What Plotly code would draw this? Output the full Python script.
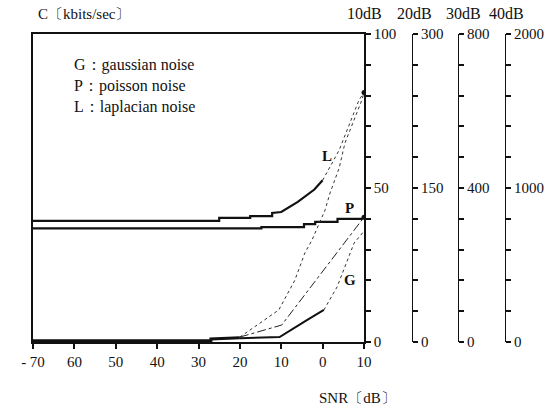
import plotly.graph_objects as go

# Channel capacity C [kbits/sec] versus SNR [dB]
# Laplacian noise: solid part, then dotted continuation
snr_L = [-70, -25, -25, -17.5, -17.5, -12.2, -12.2, -10, -6, -2, 0]
cap_L = [39.3, 39.3, 40.3, 40.3, 40.9, 40.9, 41.9, 42.2, 45.5, 49.5, 52.5]
snr_L_dot = [0, 4, 8.8, 10]
cap_L_dot = [52.5, 62.3, 78.6, 81]

# Poisson noise
snr_P = [-70, -14.8, -14.8, -4.5, -4.5, -1.8, -1.8, 3.6, 3.6, 9.5, 10]
cap_P = [36.9, 36.9, 37.3, 37.3, 38.3, 38.3, 39.0, 39.0, 40.0, 40.0, 40.5]

# Gaussian noise: solid part, then dotted continuation
snr_G = [-20, -10.4, -3.8, 0.3]
cap_G = [1.2, 1.6, 7.1, 10.4]
snr_G_dot = [0.3, 3.5, 7.6, 10]
cap_G_dot = [10.4, 17.9, 32.1, 36]

# Further dotted and dash-dot curves
snr_A = [-20, -10.6, -6.7, -4.3, -2.6, 0.6, 1.8, 4, 5.4, 9.5, 10]
cap_A = [1.6, 10.4, 20.1, 28.9, 33.0, 42.9, 48.4, 56.5, 64.6, 78.6, 81]
snr_C = [-20, -9.9, 10]
cap_C = [1.6, 5.5, 40.5]

# Low-SNR floor
snr_base = [-70, -27, -27, -20]
cap_base = [0.4, 0.4, 1.0, 1.4]

x_ticks = [-70, -60, -50, -40, -30, -20, -10, 0, 10]
x_ticktext = ["- 70", "60", "50", "40", "30", "20", "10", "0", "10"]

scale_heads = ["10dB", "20dB", "30dB", "40dB"]
scale_max = [100, 300, 800, 2000]

legend_lines = ["G：gaussian noise", "P：poisson noise", "L：laplacian noise"]

SERIF = "Liberation Serif, DejaVu Serif, serif"
INK = "#111111"

# figure geometry (px)
FIG_W, FIG_H = 560, 414
M_L, M_R, M_T, M_B = 33, 20, 34, 72
PW = FIG_W - M_L - M_R
PH = FIG_H - M_T - M_B


def px_to_paper(px, py):
    return (px - M_L) / PW, (FIG_H - M_B - py) / PH


fig = go.Figure()


def add_line(x, y, width, dash="solid", color=INK):
    fig.add_trace(go.Scatter(x=x, y=y, mode="lines",
                             line=dict(color=color, width=width, dash=dash),
                             showlegend=False, hoverinfo="skip"))


add_line(snr_base, cap_base, 3)
add_line(snr_L, cap_L, 2.2)
add_line(snr_L_dot, cap_L_dot, 1, "dot", "#333333")
add_line(snr_P, cap_P, 2.2)
add_line(snr_G, cap_G, 2)
add_line(snr_G_dot, cap_G_dot, 1, "dot", "#333333")
add_line(snr_A, cap_A, 1, "dot", "#333333")
add_line(snr_C, cap_C, 1, "dashdot", "#222222")

# end-point markers
fig.add_trace(go.Scatter(x=[snr_L_dot[-1], snr_P[-1]], y=[cap_L_dot[-1], cap_P[-1]],
                         mode="markers", marker=dict(color=INK, size=5),
                         showlegend=False, hoverinfo="skip"))

# curve labels
for txt, xx, yy in [("L", 1.0, 60.5), ("P", 6.5, 43.5), ("G", 6.5, 20)]:
    fig.add_annotation(x=xx, y=yy, text=f"<b>{txt}</b>", showarrow=False,
                       font=dict(family=SERIF, size=15, color=INK))

main_w = 331.0
x_dom_end = main_w / PW
pos_extra = [(412 - M_L) / PW, (458 - M_L) / PW, (505 - M_L) / PW]

fig.update_layout(
    width=FIG_W, height=FIG_H,
    margin=dict(l=M_L, r=M_R, t=M_T, b=M_B),
    paper_bgcolor="white", plot_bgcolor="white",
    font=dict(family=SERIF, size=14, color=INK),
    xaxis=dict(domain=[0, x_dom_end], range=[-70, 10],
               tickvals=x_ticks, ticktext=x_ticktext,
               ticks="outside", ticklen=5, tickwidth=1.5, tickcolor=INK,
               showline=True, linecolor=INK, linewidth=2, mirror=True,
               showgrid=False, zeroline=False,
               tickfont=dict(family=SERIF, size=15, color=INK)),
    yaxis=dict(range=[0, 100], side="right",
               tickvals=list(range(0, 101, 10)),
               ticktext=["0", "", "", "", "", "50", "", "", "", "", "100"],
               ticks="outside", ticklen=5, tickwidth=2, tickcolor=INK,
               showline=True, linecolor=INK, linewidth=1.5, mirror=True,
               showgrid=False, zeroline=False,
               tickfont=dict(family=SERIF, size=15, color=INK)),
)

# extra capacity scales for 20, 30 and 40 dB
for i, (top, pos) in enumerate(zip(scale_max[1:], pos_extra)):
    name = f"yaxis{i + 2}"
    vals = [top * k / 10 for k in range(11)]
    txt = [""] * 11
    txt[0], txt[5], txt[10] = "0", f"{top // 2}", f"{top}"
    fig.update_layout(**{name: dict(
        range=[0, top], overlaying="y", anchor="free", position=pos,
        side="right", tickvals=vals, ticktext=txt,
        ticks="outside", ticklen=5, tickwidth=2, tickcolor=INK,
        showline=True, linecolor=INK, linewidth=1.2,
        showgrid=False, zeroline=False,
        tickfont=dict(family=SERIF, size=15, color=INK))})
    fig.add_trace(go.Scatter(x=[-70], y=[0], yaxis=f"y{i + 2}", mode="markers",
                             marker=dict(opacity=0), showlegend=False,
                             hoverinfo="skip"))

# scale headings
head_x = [364, 414, 463, 506]
for txt, hx in zip(scale_heads, head_x):
    ax, ay = px_to_paper(hx, 13)
    fig.add_annotation(x=ax, y=ay, xref="paper", yref="paper",
                       text=txt, showarrow=False, xanchor="center", yanchor="middle",
                       font=dict(family=SERIF, size=16, color=INK))

# axis titles
ax, ay = px_to_paper(36, 14)
fig.add_annotation(x=ax, y=ay, xref="paper", yref="paper",
                   text="C〔kbits/sec〕", showarrow=False, xanchor="left",
                   yanchor="middle", font=dict(family=SERIF, size=15, color=INK))
ax, ay = px_to_paper(357, 398)
fig.add_annotation(x=ax, y=ay, xref="paper", yref="paper",
                   text="SNR〔dB〕", showarrow=False, xanchor="center",
                   yanchor="middle", font=dict(family=SERIF, size=15, color=INK))

# noise legend
for k, line in enumerate(legend_lines):
    fig.add_annotation(x=-60.5, y=90 - k * 6.8, text=line, showarrow=False,
                       xanchor="left", yanchor="middle",
                       font=dict(family=SERIF, size=16, color=INK))

fig.write_html("out.html")
